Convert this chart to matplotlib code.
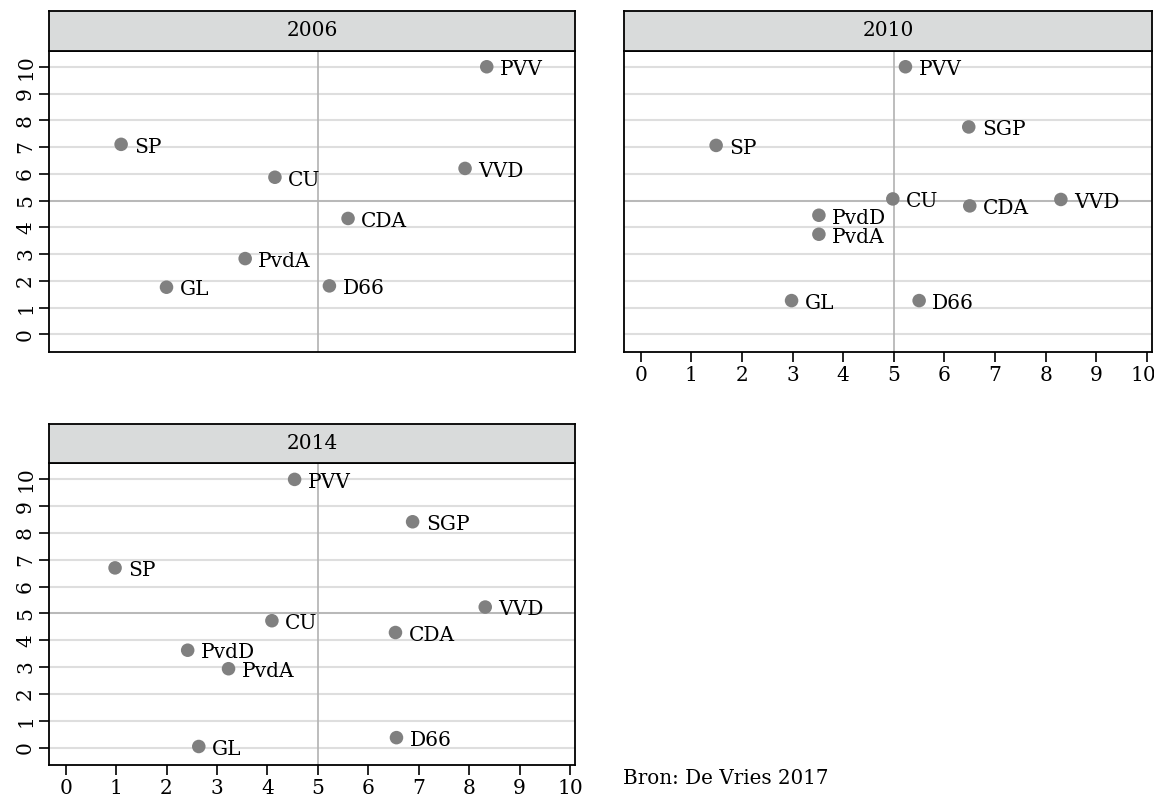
import matplotlib
matplotlib.use('Agg')
import matplotlib.pyplot as plt
import matplotlib.transforms as mtransforms

plt.rcParams['font.family'] = ['DejaVu Serif']

years = ['2006', '2010', '2014']

parties_2006 = ['PVV', 'SP', 'CU', 'VVD', 'CDA', 'PvdA', 'GL', 'D66']
x_2006 = [8.35, 1.10, 4.15, 7.92, 5.60, 3.56, 2.00, 5.23]
y_2006 = [10.0, 7.10, 5.87, 6.20, 4.33, 2.83, 1.76, 1.81]

parties_2010 = ['PVV', 'SGP', 'SP', 'CU', 'CDA', 'VVD', 'PvdD', 'PvdA', 'GL', 'D66']
x_2010 = [5.23, 6.48, 1.49, 4.98, 6.50, 8.30, 3.52, 3.52, 2.98, 5.50]
y_2010 = [10.0, 7.75, 7.06, 5.06, 4.80, 5.04, 4.45, 3.74, 1.26, 1.26]

parties_2014 = ['PVV', 'SGP', 'SP', 'VVD', 'CU', 'CDA', 'PvdD', 'PvdA', 'GL', 'D66']
x_2014 = [4.54, 6.88, 0.98, 8.32, 4.09, 6.54, 2.42, 3.23, 2.64, 6.56]
y_2014 = [10.0, 8.42, 6.70, 5.24, 4.73, 4.29, 3.63, 2.94, 0.04, 0.37]

ticks = list(range(0, 11))
source_text = 'Bron: De Vries 2017'

W, H = 1154, 800
fig = plt.figure(figsize=(W / 100, H / 100), dpi=100)
fig.patch.set_facecolor('white')

def px_axes(l, t, r, b):
    return fig.add_axes([l / W, 1 - b / H, (r - l) / W, (b - t) / H])

panels = [
    ('2006', parties_2006, x_2006, y_2006, (49, 50.7, 575, 351.7), 11, False, True),
    ('2010', parties_2010, x_2010, y_2010, (624, 50.7, 1152, 351.7), 11, True, False),
    ('2014', parties_2014, x_2014, y_2014, (49, 463.3, 575, 765), 424, True, True),
]

FS = 14.5

for year, names, xs, ys, (l, t, r, b), st, showx, showy in panels:
    ax = px_axes(l, t, r, b)
    ax.set_xlim(-0.33, 10.1)
    ax.set_ylim(-0.65, 10.6)
    for yv in ticks:
        ax.axhline(yv, color='#dedede', lw=1.5, zorder=1)
    ax.axhline(5, color='#b2b2b2', lw=1.2, zorder=2)
    ax.axvline(5, color='#b2b2b2', lw=1.2, zorder=2)
    ax.scatter(xs, ys, s=95, color='#808080', edgecolors='none', zorder=3)
    for n, xv, yv in zip(names, xs, ys):
        ax.annotate(n, (xv, yv), xytext=(9.5, -2), textcoords='offset points',
                    ha='left', va='center', fontsize=FS, color='black', zorder=4)
    for sp in ax.spines.values():
        sp.set_linewidth(1.3)
        sp.set_color('black')
    if showx:
        ax.set_xticks(ticks)
        ax.set_xticklabels([str(v) for v in ticks], fontsize=FS)
        ax.tick_params(axis='x', length=7, width=1.2, pad=3)
        if r > W - 10:
            last = ax.get_xticklabels()[-1]
            last.set_transform(last.get_transform() +
                               mtransforms.ScaledTranslation(-4 / 100, 0, fig.dpi_scale_trans))
    else:
        ax.set_xticks([])
    if showy:
        ax.set_yticks(ticks)
        ax.set_yticklabels([str(v) for v in ticks], fontsize=FS, rotation=90, va='center')
        ax.tick_params(axis='y', length=7, width=1.2, pad=3)
    else:
        ax.set_yticks([])
    sax = px_axes(l, st, r, t)
    sax.set_facecolor('#d9dbdb')
    sax.set_xticks([])
    sax.set_yticks([])
    for sp in sax.spines.values():
        sp.set_linewidth(1.3)
        sp.set_color('black')
    sax.text(0.5, 0.5, year, ha='center', va='center', fontsize=FS, transform=sax.transAxes)

fig.text(623 / W, 1 - 778 / H, source_text, ha='left', va='center', fontsize=14.3)

fig.savefig('out.png', dpi=100, facecolor='white')
